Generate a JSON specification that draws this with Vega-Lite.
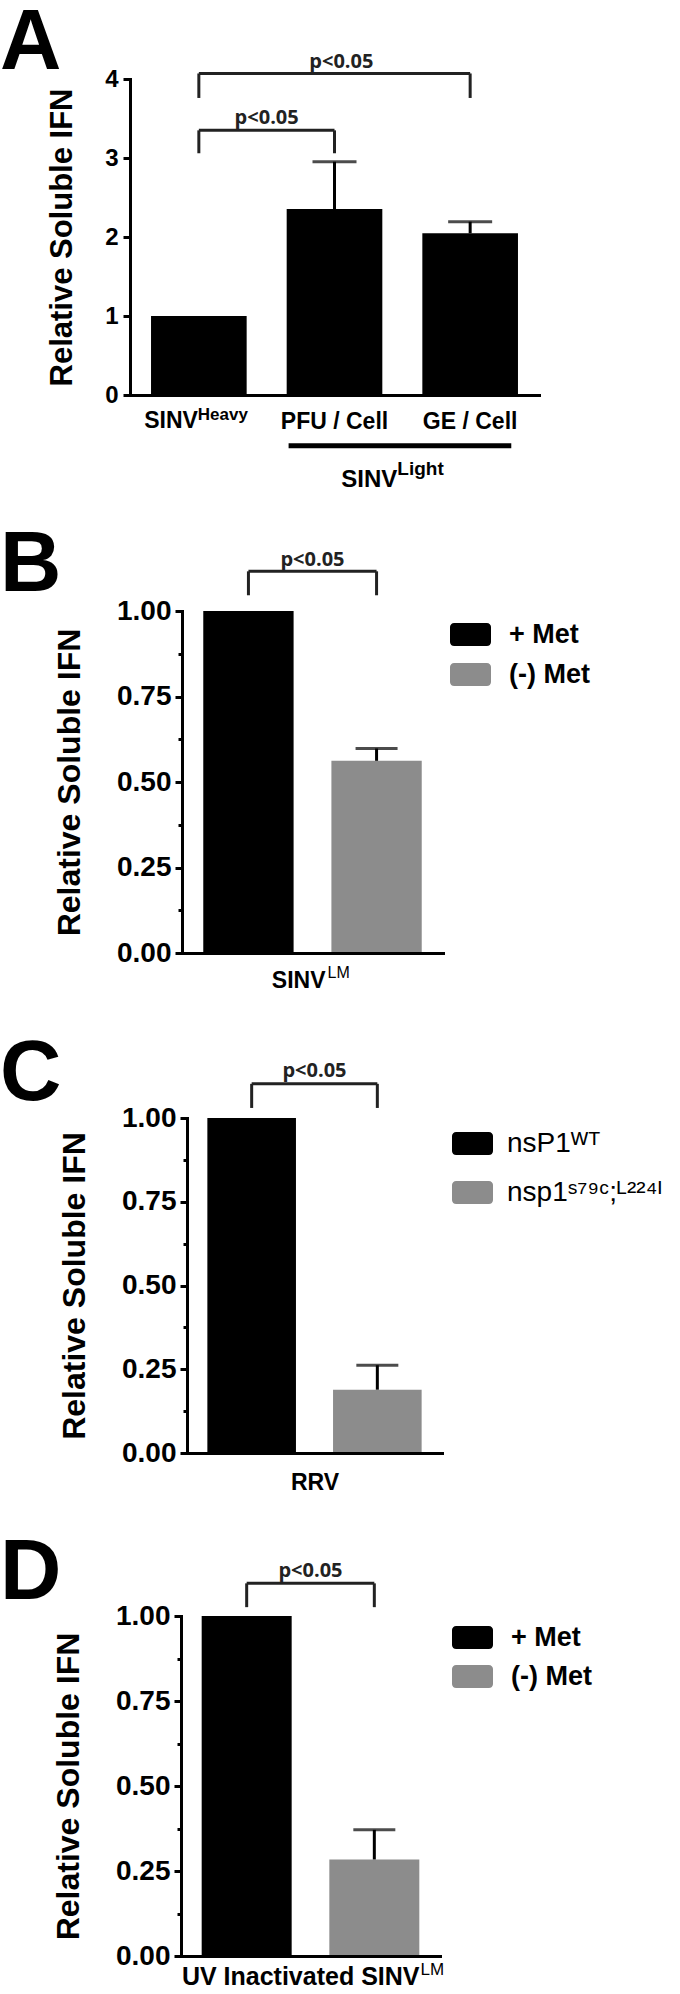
{
  "$schema": "https://vega.github.io/schema/vega-lite/v6.json",
  "padding": {"left": 0, "top": 0, "right": 0, "bottom": 0},
  "bounds": "flush",
  "spacing": 0,
  "align": "none",
  "resolve": {"scale": {"color": "independent", "x": "independent", "y": "independent"}, "legend": {"color": "independent"}, "axis": {"x": "independent", "y": "independent"}},
  "config": {
    "font": "Liberation Sans",
    "view": {"stroke": null},
    "axis": {"grid": false, "domainColor": "black", "domainWidth": 3, "domainCap": "square", "tickColor": "black", "tickWidth": 3, "labelColor": "black", "titleColor": "black", "labelFont": "Liberation Sans", "titleFont": "Liberation Sans", "labelFontWeight": "bold", "titleFontWeight": "bold", "labelOverlap": false, "labelFlush": false, "titleLimit": 1000},
    "legend": {"labelFont": "Liberation Sans", "labelColor": "black"},
    "title": {"font": "Liberation Sans", "fontWeight": "bold", "fontSize": 85, "color": "black", "anchor": "start", "frame": "group", "align": "left", "baseline": "alphabetic", "offset": 0}
  },
  "datasets": {
    "barsA": [
      {"group": "SINV-Heavy", "value": 1.0},
      {"group": "PFU / Cell", "value": 2.354, "upper": 2.953},
      {"group": "GE / Cell", "value": 2.047, "upper": 2.194}
    ],
    "bracketsA": [
      {"id": 1, "from": "SINV-Heavy", "to": "PFU / Cell", "top": 3.35, "foot": 3.06, "ty": 3.506, "label": "p<0.05"},
      {"id": 2, "from": "SINV-Heavy", "to": "GE / Cell", "top": 4.07, "foot": 3.76, "ty": 4.215, "label": "p<0.05"}
    ],
    "xlabA": [{"group": "SINV-Heavy", "main": "SINV", "sup": "Heavy"}],
    "groupA": [{"from": "PFU / Cell", "to": "GE / Cell", "main": "SINV", "sup": "Light"}],
    "barsB": [
      {"condition": "+ Met", "value": 1.0},
      {"condition": "(-) Met", "value": 0.562, "upper": 0.598}
    ],
    "bracketsB": [{"from": "+ Met", "to": "(-) Met", "top": 1.116, "foot": 1.046, "ty": 1.15, "label": "p<0.05"}],
    "xlabB": [{"from": "+ Met", "main": "SINV", "sup": "LM"}],
    "barsC": [
      {"condition": "nsP1ᵂᵀ", "value": 1.0},
      {"condition": "nsp1ˢ⁷⁹ᶜ;ᴸ²²⁴ᴵ", "value": 0.189, "upper": 0.262}
    ],
    "bracketsC": [{"from": "nsP1ᵂᵀ", "to": "nsp1ˢ⁷⁹ᶜ;ᴸ²²⁴ᴵ", "top": 1.102, "foot": 1.03, "ty": 1.139, "label": "p<0.05"}],
    "barsD": [
      {"condition": "+ Met", "value": 1.0},
      {"condition": "(-) Met", "value": 0.284, "upper": 0.371}
    ],
    "bracketsD": [{"from": "+ Met", "to": "(-) Met", "top": 1.096, "foot": 1.026, "ty": 1.132, "label": "p<0.05"}],
    "xlabD": [{"from": "+ Met", "main": "UV Inactivated SINV", "sup": "LM"}]
  },
  "vconcat": [
    {
      "width": 409,
      "height": 395,
      "title": {"text": "A", "dx": -130, "dy": 91},
      "layer": [
        {
          "data": {"name": "barsA"},
          "mark": {"type": "bar", "color": "black"},
          "encoding": {
            "x": {"field": "group", "type": "nominal", "sort": null,
              "scale": {"domain": ["SINV-Heavy", "PFU / Cell", "GE / Cell"], "paddingInner": 0.295, "paddingOuter": 0.155},
              "axis": {"title": null, "labelAngle": 0, "ticks": false, "tickSize": 0, "labelPadding": 15, "labelFontSize": 23, "zindex": 1,
                "labelExpr": "datum.value === 'SINV-Heavy' ? '' : datum.label"}},
            "y": {"field": "value", "type": "quantitative",
              "scale": {"domain": [0, 4], "range": [395, 79], "nice": false},
              "axis": {"title": "Relative Soluble IFN", "titleFontSize": 31, "titlePadding": 26,
                "values": [0, 0.25, 0.5, 0.75, 1, 1.25, 1.5, 1.75, 2, 2.25, 2.5, 2.75, 3, 3.25, 3.5, 3.75, 4],
                "labelExpr": "datum.value % 1 === 0 ? datum.label : ''", "format": "d",
                "tickSize": {"condition": {"test": "datum.value % 1 === 0", "value": 7}, "value": 4},
                "labelFontSize": 24, "labelPadding": 5, "zindex": 1}}
          }
        },
        {
          "data": {"name": "barsA"},
          "transform": [{"filter": "isValid(datum.upper)"}],
          "mark": {"type": "rule", "strokeWidth": 3, "color": "black"},
          "encoding": {
            "x": {"field": "group", "type": "nominal"},
            "y": {"field": "value", "type": "quantitative"},
            "y2": {"field": "upper"}
          }
        },
        {
          "data": {"name": "barsA"},
          "transform": [{"filter": "isValid(datum.upper)"}],
          "mark": {"type": "tick", "size": 44, "thickness": 3, "color": "black"},
          "encoding": {
            "x": {"field": "group", "type": "nominal"},
            "y": {"field": "upper", "type": "quantitative"}
          }
        },
        {
          "data": {"name": "bracketsA"},
          "mark": {"type": "rule", "strokeWidth": 3, "color": "#222222"},
          "encoding": {
            "x": {"field": "from", "type": "nominal", "bandPosition": 0.5},
            "x2": {"field": "to", "bandPosition": 0.5},
            "y": {"field": "top", "type": "quantitative"}
          }
        },
        {
          "data": {"name": "bracketsA"},
          "transform": [{"fold": ["from", "to"], "as": ["end", "cat"]}],
          "mark": {"type": "rule", "strokeWidth": 3, "color": "#222222"},
          "encoding": {
            "x": {"field": "cat", "type": "nominal", "bandPosition": 0.5},
            "y": {"field": "foot", "type": "quantitative"},
            "y2": {"field": "top"}
          }
        },
        {
          "data": {"name": "bracketsA"},
          "transform": [{"filter": "datum.id === 1"}],
          "mark": {"type": "text", "font": "Open Sans", "fontWeight": "bold", "fontSize": 20, "baseline": "middle", "align": "center", "color": "#222222"},
          "encoding": {
            "x": {"field": "from", "type": "nominal", "bandPosition": 1.209},
            "y": {"field": "ty", "type": "quantitative"},
            "text": {"field": "label"}
          }
        },
        {
          "data": {"name": "bracketsA"},
          "transform": [{"filter": "datum.id === 2"}],
          "mark": {"type": "text", "font": "Open Sans", "fontWeight": "bold", "fontSize": 20, "baseline": "middle", "align": "center", "color": "#222222"},
          "encoding": {
            "x": {"field": "from", "type": "nominal", "bandPosition": 1.99},
            "y": {"field": "ty", "type": "quantitative"},
            "text": {"field": "label"}
          }
        },
        {
          "data": {"name": "xlabA"},
          "mark": {"type": "text", "fontWeight": "bold", "fontSize": 23, "baseline": "alphabetic", "align": "right", "dx": -1, "color": "black"},
          "encoding": {
            "x": {"field": "group", "type": "nominal", "bandPosition": 0.5},
            "y": {"datum": -0.4215, "type": "quantitative"},
            "text": {"field": "main"}
          }
        },
        {
          "data": {"name": "xlabA"},
          "mark": {"type": "text", "fontWeight": "bold", "fontSize": 17, "baseline": "alphabetic", "align": "left", "dx": -1, "dy": -8.5, "color": "black"},
          "encoding": {
            "x": {"field": "group", "type": "nominal", "bandPosition": 0.5},
            "y": {"datum": -0.4215, "type": "quantitative"},
            "text": {"field": "sup"}
          }
        },
        {
          "data": {"name": "groupA"},
          "mark": {"type": "rule", "strokeWidth": 5, "color": "black"},
          "encoding": {
            "x": {"field": "from", "type": "nominal", "bandPosition": 0.02},
            "x2": {"field": "to", "bandPosition": 0.93},
            "y": {"datum": -0.643, "type": "quantitative"}
          }
        },
        {
          "data": {"name": "groupA"},
          "mark": {"type": "text", "fontWeight": "bold", "fontSize": 24, "baseline": "alphabetic", "align": "right", "dx": -5, "color": "black"},
          "encoding": {
            "x": {"field": "from", "type": "nominal", "bandPosition": 1.209},
            "y": {"datum": -1.161, "type": "quantitative"},
            "text": {"field": "main"}
          }
        },
        {
          "data": {"name": "groupA"},
          "mark": {"type": "text", "fontWeight": "bold", "fontSize": 19, "baseline": "alphabetic", "align": "left", "dx": -5, "dy": -12, "color": "black"},
          "encoding": {
            "x": {"field": "from", "type": "nominal", "bandPosition": 1.209},
            "y": {"datum": -1.161, "type": "quantitative"},
            "text": {"field": "sup"}
          }
        }
      ]
    },
    {
      "width": 313,
      "height": 558,
      "title": {"text": "B", "dx": -130, "dy": 218},
      "layer": [
        {
          "data": {"name": "barsB"},
          "mark": {"type": "bar"},
          "encoding": {
            "x": {"field": "condition", "type": "nominal", "sort": null,
              "scale": {"domain": ["+ Met", "(-) Met"], "range": [52, 313], "paddingInner": 0.295, "paddingOuter": 0.166},
              "axis": {"title": null, "labels": false, "ticks": false, "tickSize": 0, "zindex": 1}},
            "y": {"field": "value", "type": "quantitative",
              "scale": {"domain": [0, 1], "range": [558, 216], "nice": false},
              "axis": {"title": "Relative Soluble IFN", "offset": -52, "titleFontSize": 32, "titlePadding": 30,
                "values": [0, 0.0625, 0.125, 0.1875, 0.25, 0.3125, 0.375, 0.4375, 0.5, 0.5625, 0.625, 0.6875, 0.75, 0.8125, 0.875, 0.9375, 1],
                "labelExpr": "(datum.value * 4) % 1 === 0 ? datum.label : ''", "format": ".2f",
                "tickSize": {"condition": {"test": "(datum.value * 4) % 1 === 0", "value": 7}, "value": 4},
                "labelFontSize": 28, "labelPadding": 4, "zindex": 1}},
            "color": {"field": "condition", "type": "nominal", "sort": null,
              "scale": {"domain": ["+ Met", "(-) Met"], "range": ["#000000", "#8c8c8c"]},
              "legend": {"orient": "none", "legendX": 320, "legendY": 219, "title": null,
                "symbolType": "M-0.8,-0.56H0.8A0.2,0.2 0 0 1 1,-0.36V0.36A0.2,0.2 0 0 1 0.8,0.56H-0.8A0.2,0.2 0 0 1 -1,0.36V-0.36A0.2,0.2 0 0 1 -0.8,-0.56Z",
                "symbolSize": 1681, "symbolStrokeWidth": 0, "symbolOpacity": 1,
                "labelFontSize": 27, "labelFontWeight": "bold", "labelOffset": 18, "rowPadding": 6, "padding": 0}}
          }
        },
        {
          "data": {"name": "barsB"},
          "transform": [{"filter": "isValid(datum.upper)"}],
          "mark": {"type": "rule", "strokeWidth": 3, "color": "black"},
          "encoding": {
            "x": {"field": "condition", "type": "nominal"},
            "y": {"field": "value", "type": "quantitative"},
            "y2": {"field": "upper"}
          }
        },
        {
          "data": {"name": "barsB"},
          "transform": [{"filter": "isValid(datum.upper)"}],
          "mark": {"type": "tick", "size": 42, "thickness": 3, "color": "black"},
          "encoding": {
            "x": {"field": "condition", "type": "nominal"},
            "y": {"field": "upper", "type": "quantitative"}
          }
        },
        {
          "data": {"name": "bracketsB"},
          "mark": {"type": "rule", "strokeWidth": 3, "color": "#222222"},
          "encoding": {
            "x": {"field": "from", "type": "nominal", "bandPosition": 0.5},
            "x2": {"field": "to", "bandPosition": 0.5},
            "y": {"field": "top", "type": "quantitative"}
          }
        },
        {
          "data": {"name": "bracketsB"},
          "transform": [{"fold": ["from", "to"], "as": ["end", "cat"]}],
          "mark": {"type": "rule", "strokeWidth": 3, "color": "#222222"},
          "encoding": {
            "x": {"field": "cat", "type": "nominal", "bandPosition": 0.5},
            "y": {"field": "foot", "type": "quantitative"},
            "y2": {"field": "top"}
          }
        },
        {
          "data": {"name": "bracketsB"},
          "mark": {"type": "text", "font": "Open Sans", "fontWeight": "bold", "fontSize": 20, "baseline": "middle", "align": "center", "color": "#222222"},
          "encoding": {
            "x": {"field": "from", "type": "nominal", "bandPosition": 1.209},
            "y": {"field": "ty", "type": "quantitative"},
            "text": {"field": "label"}
          }
        },
        {
          "data": {"name": "xlabB"},
          "mark": {"type": "text", "fontWeight": "bold", "fontSize": 23, "baseline": "alphabetic", "align": "right", "dx": 13, "color": "black"},
          "encoding": {
            "x": {"field": "from", "type": "nominal", "bandPosition": 1.209},
            "y": {"datum": -0.102, "type": "quantitative"},
            "text": {"field": "main"}
          }
        },
        {
          "data": {"name": "xlabB"},
          "mark": {"type": "text", "fontWeight": "normal", "fontSize": 16, "baseline": "alphabetic", "align": "left", "dx": 15, "dy": -10, "color": "black"},
          "encoding": {
            "x": {"field": "from", "type": "nominal", "bandPosition": 1.209},
            "y": {"datum": -0.102, "type": "quantitative"},
            "text": {"field": "sup"}
          }
        }
      ]
    },
    {
      "width": 312,
      "height": 500,
      "title": {"text": "C", "dx": -130, "dy": 169},
      "layer": [
        {
          "data": {"name": "barsC"},
          "mark": {"type": "bar"},
          "encoding": {
            "x": {"field": "condition", "type": "nominal", "sort": null,
              "scale": {"domain": ["nsP1ᵂᵀ", "nsp1ˢ⁷⁹ᶜ;ᴸ²²⁴ᴵ"], "range": [57, 312], "paddingInner": 0.295, "paddingOuter": 0.162},
              "axis": {"title": "RRV", "labels": false, "ticks": false, "tickSize": 0, "titleFontSize": 23, "titlePadding": 18, "zindex": 1}},
            "y": {"field": "value", "type": "quantitative",
              "scale": {"domain": [0, 1], "range": [500, 165], "nice": false},
              "axis": {"title": "Relative Soluble IFN", "offset": -57, "titleFontSize": 32, "titlePadding": 30,
                "values": [0, 0.0625, 0.125, 0.1875, 0.25, 0.3125, 0.375, 0.4375, 0.5, 0.5625, 0.625, 0.6875, 0.75, 0.8125, 0.875, 0.9375, 1],
                "labelExpr": "(datum.value * 4) % 1 === 0 ? datum.label : ''", "format": ".2f",
                "tickSize": {"condition": {"test": "(datum.value * 4) % 1 === 0", "value": 7}, "value": 4},
                "labelFontSize": 28, "labelPadding": 4, "zindex": 1}},
            "color": {"field": "condition", "type": "nominal", "sort": null,
              "scale": {"domain": ["nsP1ᵂᵀ", "nsp1ˢ⁷⁹ᶜ;ᴸ²²⁴ᴵ"], "range": ["#000000", "#8c8c8c"]},
              "legend": {"orient": "none", "legendX": 322, "legendY": 170, "title": null,
                "symbolType": "M-0.8,-0.56H0.8A0.2,0.2 0 0 1 1,-0.36V0.36A0.2,0.2 0 0 1 0.8,0.56H-0.8A0.2,0.2 0 0 1 -1,0.36V-0.36A0.2,0.2 0 0 1 -0.8,-0.56Z",
                "symbolSize": 1681, "symbolStrokeWidth": 0, "symbolOpacity": 1,
                "labelFontSize": 28, "labelFontWeight": "normal", "labelOffset": 14, "rowPadding": 14, "padding": 0, "labelLimit": 400}}
          }
        },
        {
          "data": {"name": "barsC"},
          "transform": [{"filter": "isValid(datum.upper)"}],
          "mark": {"type": "rule", "strokeWidth": 3, "color": "black"},
          "encoding": {
            "x": {"field": "condition", "type": "nominal"},
            "y": {"field": "value", "type": "quantitative"},
            "y2": {"field": "upper"}
          }
        },
        {
          "data": {"name": "barsC"},
          "transform": [{"filter": "isValid(datum.upper)"}],
          "mark": {"type": "tick", "size": 42, "thickness": 3, "color": "black"},
          "encoding": {
            "x": {"field": "condition", "type": "nominal"},
            "y": {"field": "upper", "type": "quantitative"}
          }
        },
        {
          "data": {"name": "bracketsC"},
          "mark": {"type": "rule", "strokeWidth": 3, "color": "#222222"},
          "encoding": {
            "x": {"field": "from", "type": "nominal", "bandPosition": 0.5},
            "x2": {"field": "to", "bandPosition": 0.5},
            "y": {"field": "top", "type": "quantitative"}
          }
        },
        {
          "data": {"name": "bracketsC"},
          "transform": [{"fold": ["from", "to"], "as": ["end", "cat"]}],
          "mark": {"type": "rule", "strokeWidth": 3, "color": "#222222"},
          "encoding": {
            "x": {"field": "cat", "type": "nominal", "bandPosition": 0.5},
            "y": {"field": "foot", "type": "quantitative"},
            "y2": {"field": "top"}
          }
        },
        {
          "data": {"name": "bracketsC"},
          "mark": {"type": "text", "font": "Open Sans", "fontWeight": "bold", "fontSize": 20, "baseline": "middle", "align": "center", "color": "#222222"},
          "encoding": {
            "x": {"field": "from", "type": "nominal", "bandPosition": 1.209},
            "y": {"field": "ty", "type": "quantitative"},
            "text": {"field": "label"}
          }
        }
      ]
    },
    {
      "width": 310,
      "height": 503,
      "title": {"text": "D", "dx": -130, "dy": 168},
      "layer": [
        {
          "data": {"name": "barsD"},
          "mark": {"type": "bar"},
          "encoding": {
            "x": {"field": "condition", "type": "nominal", "sort": null,
              "scale": {"domain": ["+ Met", "(-) Met"], "range": [51, 310], "paddingInner": 0.295, "paddingOuter": 0.162},
              "axis": {"title": null, "labels": false, "ticks": false, "tickSize": 0, "zindex": 1}},
            "y": {"field": "value", "type": "quantitative",
              "scale": {"domain": [0, 1], "range": [503, 163], "nice": false},
              "axis": {"title": "Relative Soluble IFN", "offset": -51, "titleFontSize": 32, "titlePadding": 30,
                "values": [0, 0.0625, 0.125, 0.1875, 0.25, 0.3125, 0.375, 0.4375, 0.5, 0.5625, 0.625, 0.6875, 0.75, 0.8125, 0.875, 0.9375, 1],
                "labelExpr": "(datum.value * 4) % 1 === 0 ? datum.label : ''", "format": ".2f",
                "tickSize": {"condition": {"test": "(datum.value * 4) % 1 === 0", "value": 7}, "value": 4},
                "labelFontSize": 28, "labelPadding": 4, "zindex": 1}},
            "color": {"field": "condition", "type": "nominal", "sort": null,
              "scale": {"domain": ["+ Met", "(-) Met"], "range": ["#000000", "#8c8c8c"]},
              "legend": {"orient": "none", "legendX": 322, "legendY": 164, "title": null,
                "symbolType": "M-0.8,-0.56H0.8A0.2,0.2 0 0 1 1,-0.36V0.36A0.2,0.2 0 0 1 0.8,0.56H-0.8A0.2,0.2 0 0 1 -1,0.36V-0.36A0.2,0.2 0 0 1 -0.8,-0.56Z",
                "symbolSize": 1681, "symbolStrokeWidth": 0, "symbolOpacity": 1,
                "labelFontSize": 27, "labelFontWeight": "bold", "labelOffset": 18, "rowPadding": 5, "padding": 0}}
          }
        },
        {
          "data": {"name": "barsD"},
          "transform": [{"filter": "isValid(datum.upper)"}],
          "mark": {"type": "rule", "strokeWidth": 3, "color": "black"},
          "encoding": {
            "x": {"field": "condition", "type": "nominal"},
            "y": {"field": "value", "type": "quantitative"},
            "y2": {"field": "upper"}
          }
        },
        {
          "data": {"name": "barsD"},
          "transform": [{"filter": "isValid(datum.upper)"}],
          "mark": {"type": "tick", "size": 42, "thickness": 3, "color": "black"},
          "encoding": {
            "x": {"field": "condition", "type": "nominal"},
            "y": {"field": "upper", "type": "quantitative"}
          }
        },
        {
          "data": {"name": "bracketsD"},
          "mark": {"type": "rule", "strokeWidth": 3, "color": "#222222"},
          "encoding": {
            "x": {"field": "from", "type": "nominal", "bandPosition": 0.5},
            "x2": {"field": "to", "bandPosition": 0.5},
            "y": {"field": "top", "type": "quantitative"}
          }
        },
        {
          "data": {"name": "bracketsD"},
          "transform": [{"fold": ["from", "to"], "as": ["end", "cat"]}],
          "mark": {"type": "rule", "strokeWidth": 3, "color": "#222222"},
          "encoding": {
            "x": {"field": "cat", "type": "nominal", "bandPosition": 0.5},
            "y": {"field": "foot", "type": "quantitative"},
            "y2": {"field": "top"}
          }
        },
        {
          "data": {"name": "bracketsD"},
          "mark": {"type": "text", "font": "Open Sans", "fontWeight": "bold", "fontSize": 20, "baseline": "middle", "align": "center", "color": "#222222"},
          "encoding": {
            "x": {"field": "from", "type": "nominal", "bandPosition": 1.209},
            "y": {"field": "ty", "type": "quantitative"},
            "text": {"field": "label"}
          }
        },
        {
          "data": {"name": "xlabD"},
          "mark": {"type": "text", "fontWeight": "bold", "fontSize": 25, "baseline": "alphabetic", "align": "right", "dx": 109, "color": "black"},
          "encoding": {
            "x": {"field": "from", "type": "nominal", "bandPosition": 1.209},
            "y": {"datum": -0.086, "type": "quantitative"},
            "text": {"field": "main"}
          }
        },
        {
          "data": {"name": "xlabD"},
          "mark": {"type": "text", "fontWeight": "normal", "fontSize": 17, "baseline": "alphabetic", "align": "left", "dx": 110, "dy": -10, "color": "black"},
          "encoding": {
            "x": {"field": "from", "type": "nominal", "bandPosition": 1.209},
            "y": {"datum": -0.086, "type": "quantitative"},
            "text": {"field": "sup"}
          }
        }
      ]
    }
  ]
}
